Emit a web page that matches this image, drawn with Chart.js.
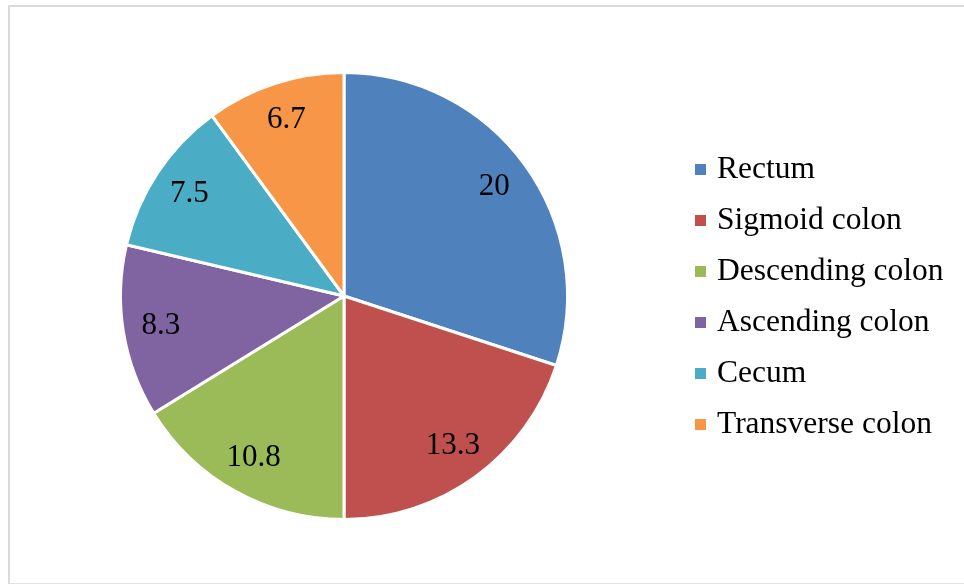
<!DOCTYPE html>
<html lang="en">
<head>
<meta charset="UTF-8">
<title>Colon segments</title>
<script src="https://cdn.jsdelivr.net/npm/chart.js"></script>
<style>
  html,body{margin:0;padding:0;background:#fff;overflow:hidden}
  .frame{position:absolute;left:8px;top:5px;width:1000px;height:576px;border:2px solid #dadada;border-right:none;border-bottom:1px solid #e3e3e3}
  .wrap{position:absolute;left:0;top:0;width:964px;height:585px}
</style>
</head>
<body>
<div class="frame"></div>
<div class="wrap"><canvas id="pie" width="964" height="585"></canvas></div>
<script>
const labels = ['Rectum','Sigmoid colon','Descending colon','Ascending colon','Cecum','Transverse colon'];
const values = [20, 13.3, 10.8, 8.3, 7.5, 6.7];
const colors = ['#4F81BD','#C0504D','#9BBB59','#8064A2','#4BACC6','#F79646'];

const FONT = '"Liberation Serif","Times New Roman",serif';

// value labels inside each slice
const sliceLabels = {
  id:'sliceLabels',
  afterDatasetsDraw(chart){
    const ctx = chart.ctx;
    const meta = chart.getDatasetMeta(0);
    ctx.save();
    ctx.font = '31px ' + FONT;
    ctx.fillStyle = '#000';
    ctx.textAlign = 'center';
    ctx.textBaseline = 'middle';
    meta.data.forEach((arc, i) => {
      const mid = (arc.startAngle + arc.endAngle) / 2;
      const r = arc.outerRadius * 0.83;
      ctx.fillText(String(values[i]), arc.x + r * Math.cos(mid), arc.y + r * Math.sin(mid));
    });
    ctx.restore();
  }
};

// legend on the right, squares + serif text
const sideLegend = {
  id:'sideLegend',
  afterDraw(chart){
    const ctx = chart.ctx;
    ctx.save();
    ctx.font = '31.5px ' + FONT;
    ctx.textBaseline = 'middle';
    ctx.textAlign = 'left';
    const x0 = 695, y0 = 169, step = 51;
    chart.data.labels.forEach((lab, i) => {
      const y = y0 + i * step;
      ctx.fillStyle = chart.data.datasets[0].backgroundColor[i];
      ctx.fillRect(x0, y - 5, 11, 11);
      ctx.fillStyle = '#000';
      ctx.fillText(lab, x0 + 22, y + 1);
    });
    ctx.restore();
  }
};

new Chart(document.getElementById('pie'), {
  type:'pie',
  data:{labels:labels, datasets:[{data:values, backgroundColor:colors, borderColor:'#fff', borderWidth:3}]},
  options:{
    responsive:false,
    animation:false,
    layout:{padding:{left:119, right:395, top:71, bottom:64}},
    plugins:{legend:{display:false}, tooltip:{enabled:false}}
  },
  plugins:[sliceLabels, sideLegend]
});
</script>
</body>
</html>
